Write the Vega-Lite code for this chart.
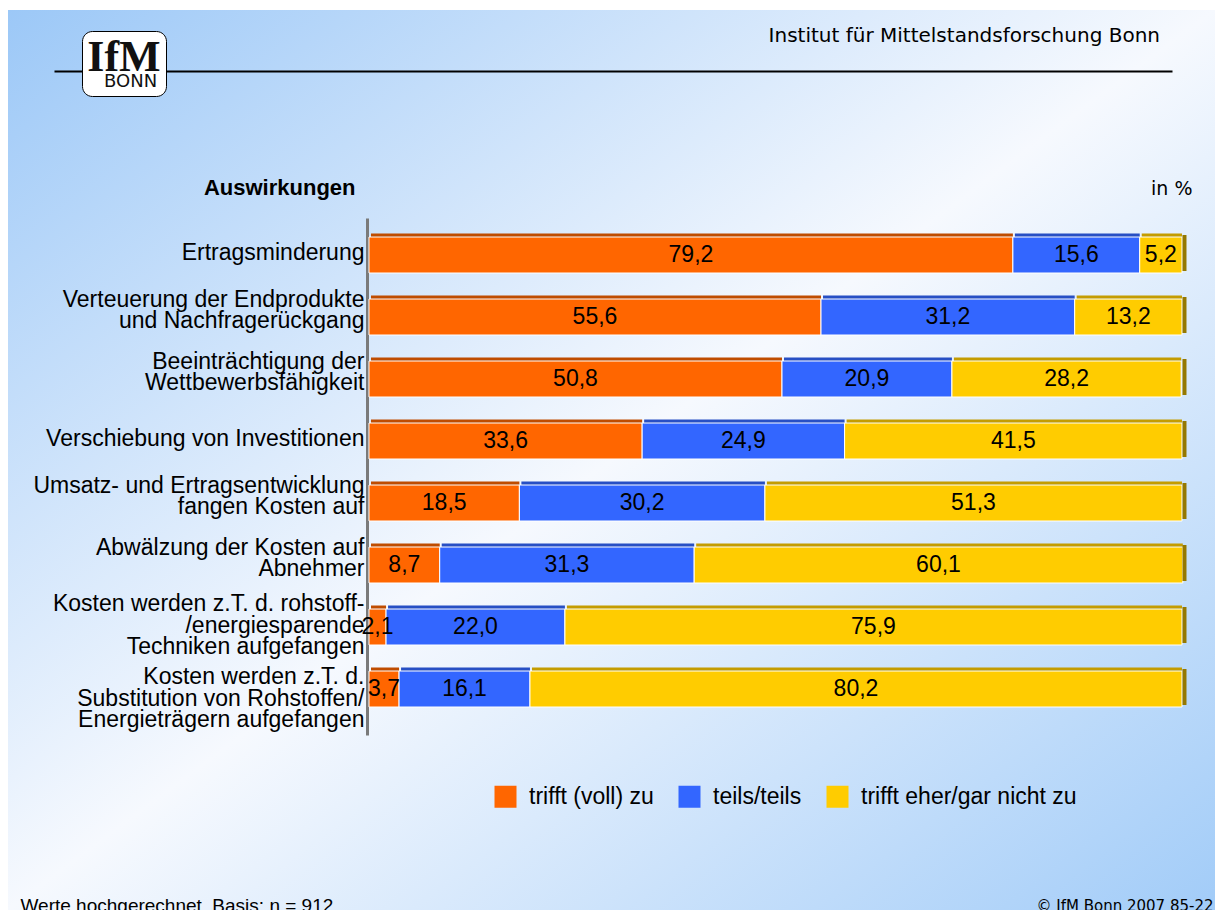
{
  "$schema": "https://vega.github.io/schema/vega-lite/v6.json",
  "width": 1207,
  "height": 900,
  "autosize": {"type": "none"},
  "padding": {"left": 8, "top": 10, "right": 0, "bottom": 0},
  "background": "#ffffff",
  "title": {
    "text": "Institut für Mittelstandsforschung Bonn",
    "orient": "top", "anchor": "end", "frame": "group",
    "offset": -52, "dx": -55, "baseline": "alphabetic",
    "font": "DejaVu Sans", "fontSize": 20, "fontWeight": "normal", "color": "#000000"
  },
  "data": {
    "values": [
      {"Auswirkung": "Ertragsminderung", "Antwort": "trifft (voll) zu", "Rang": 1, "Anteil": 79.2},
      {"Auswirkung": "Ertragsminderung", "Antwort": "teils/teils", "Rang": 2, "Anteil": 15.6},
      {"Auswirkung": "Ertragsminderung", "Antwort": "trifft eher/gar nicht zu", "Rang": 3, "Anteil": 5.2},
      {"Auswirkung": "Verteuerung der Endprodukte|und Nachfragerückgang", "Antwort": "trifft (voll) zu", "Rang": 1, "Anteil": 55.6},
      {"Auswirkung": "Verteuerung der Endprodukte|und Nachfragerückgang", "Antwort": "teils/teils", "Rang": 2, "Anteil": 31.2},
      {"Auswirkung": "Verteuerung der Endprodukte|und Nachfragerückgang", "Antwort": "trifft eher/gar nicht zu", "Rang": 3, "Anteil": 13.2},
      {"Auswirkung": "Beeinträchtigung der|Wettbewerbsfähigkeit", "Antwort": "trifft (voll) zu", "Rang": 1, "Anteil": 50.8},
      {"Auswirkung": "Beeinträchtigung der|Wettbewerbsfähigkeit", "Antwort": "teils/teils", "Rang": 2, "Anteil": 20.9},
      {"Auswirkung": "Beeinträchtigung der|Wettbewerbsfähigkeit", "Antwort": "trifft eher/gar nicht zu", "Rang": 3, "Anteil": 28.2},
      {"Auswirkung": "Verschiebung von Investitionen", "Antwort": "trifft (voll) zu", "Rang": 1, "Anteil": 33.6},
      {"Auswirkung": "Verschiebung von Investitionen", "Antwort": "teils/teils", "Rang": 2, "Anteil": 24.9},
      {"Auswirkung": "Verschiebung von Investitionen", "Antwort": "trifft eher/gar nicht zu", "Rang": 3, "Anteil": 41.5},
      {"Auswirkung": "Umsatz- und Ertragsentwicklung|fangen Kosten auf", "Antwort": "trifft (voll) zu", "Rang": 1, "Anteil": 18.5},
      {"Auswirkung": "Umsatz- und Ertragsentwicklung|fangen Kosten auf", "Antwort": "teils/teils", "Rang": 2, "Anteil": 30.2},
      {"Auswirkung": "Umsatz- und Ertragsentwicklung|fangen Kosten auf", "Antwort": "trifft eher/gar nicht zu", "Rang": 3, "Anteil": 51.3},
      {"Auswirkung": "Abwälzung der Kosten auf|Abnehmer", "Antwort": "trifft (voll) zu", "Rang": 1, "Anteil": 8.7},
      {"Auswirkung": "Abwälzung der Kosten auf|Abnehmer", "Antwort": "teils/teils", "Rang": 2, "Anteil": 31.3},
      {"Auswirkung": "Abwälzung der Kosten auf|Abnehmer", "Antwort": "trifft eher/gar nicht zu", "Rang": 3, "Anteil": 60.1},
      {"Auswirkung": "Kosten werden z.T. d. rohstoff-|/energiesparende|Techniken aufgefangen", "Antwort": "trifft (voll) zu", "Rang": 1, "Anteil": 2.1},
      {"Auswirkung": "Kosten werden z.T. d. rohstoff-|/energiesparende|Techniken aufgefangen", "Antwort": "teils/teils", "Rang": 2, "Anteil": 22.0},
      {"Auswirkung": "Kosten werden z.T. d. rohstoff-|/energiesparende|Techniken aufgefangen", "Antwort": "trifft eher/gar nicht zu", "Rang": 3, "Anteil": 75.9},
      {"Auswirkung": "Kosten werden z.T. d.|Substitution von Rohstoffen/|Energieträgern aufgefangen", "Antwort": "trifft (voll) zu", "Rang": 1, "Anteil": 3.7},
      {"Auswirkung": "Kosten werden z.T. d.|Substitution von Rohstoffen/|Energieträgern aufgefangen", "Antwort": "teils/teils", "Rang": 2, "Anteil": 16.1},
      {"Auswirkung": "Kosten werden z.T. d.|Substitution von Rohstoffen/|Energieträgern aufgefangen", "Antwort": "trifft eher/gar nicht zu", "Rang": 3, "Anteil": 80.2}
    ]
  },
  "transform": [
    {"stack": "Anteil", "groupby": ["Auswirkung"], "sort": [{"field": "Rang", "order": "ascending"}], "as": ["v0", "v1"]},
    {"calculate": "(datum.v0 + datum.v1) / 2", "as": "mid"}
  ],
  "layer": [
    {
      "mark": {"type": "bar", "stroke": "#ffffff", "strokeWidth": 1},
      "encoding": {
        "y": {
          "field": "Auswirkung", "type": "nominal", "sort": null,
          "scale": {
            "domain": [
              "Ertragsminderung",
              "Verteuerung der Endprodukte|und Nachfragerückgang",
              "Beeinträchtigung der|Wettbewerbsfähigkeit",
              "Verschiebung von Investitionen",
              "Umsatz- und Ertragsentwicklung|fangen Kosten auf",
              "Abwälzung der Kosten auf|Abnehmer",
              "Kosten werden z.T. d. rohstoff-|/energiesparende|Techniken aufgefangen",
              "Kosten werden z.T. d.|Substitution von Rohstoffen/|Energieträgern aufgefangen"
            ],
            "range": [208, 725],
            "paddingInner": 0.41935, "paddingOuter": 0.379, "align": 0.4043
          },
          "axis": {
            "orient": "left", "offset": -359,
            "title": "Auswirkungen", "titleAngle": 0, "titleAlign": "right", "titleBaseline": "alphabetic",
            "titleX": -12, "titleY": 184,
            "titleFont": "Liberation Sans", "titleFontSize": 22, "titleFontWeight": "bold", "titleColor": "#000000",
            "labelExpr": "split(datum.label, '|')",
            "labelOffset": {
              "condition": [
                {"test": "indexof(datum.label, 'Substitution') >= 0", "value": -12},
                {"test": "indexof(datum.label, 'rohstoff-') >= 0", "value": -23},
                {"test": "indexof(datum.label, '|') >= 0", "value": -17.5}
              ],
              "value": -2
            },
            "labelFont": "Liberation Sans", "labelFontSize": 23, "labelColor": "#000000",
            "labelLineHeight": 21.5, "labelPadding": 3, "labelLimit": 600,
            "ticks": false, "tickSize": 0, "grid": false,
            "domain": true, "domainColor": "#7a7a7a", "domainWidth": 3
          }
        },
        "x": {
          "field": "v0", "type": "quantitative",
          "scale": {"domain": [-44.40, 104.06], "nice": false, "zero": false},
          "axis": {
            "orient": "top", "offset": -61,
            "title": "in %", "titleX": 1184, "titleY": 123, "titleAlign": "right", "titleBaseline": "alphabetic",
            "titleFont": "DejaVu Sans", "titleFontSize": 19, "titleFontWeight": "normal", "titleColor": "#000000",
            "labels": false, "ticks": false, "grid": false,
            "domain": true, "domainColor": "#000000", "domainWidth": 2, "domainDash": [0, 46, 1118, 3000]
          }
        },
        "x2": {"field": "v1"},
        "color": {
          "field": "Antwort", "type": "nominal",
          "scale": {
            "domain": ["trifft (voll) zu", "teils/teils", "trifft eher/gar nicht zu"],
            "range": ["#ff6600", "#3366ff", "#ffcc00"]
          },
          "legend": {
            "title": null, "orient": "none", "legendX": 486, "legendY": 775,
            "direction": "horizontal", "symbolType": "square", "symbolSize": 484,
            "symbolStrokeWidth": 0, "symbolOpacity": 1,
            "labelFont": "Liberation Sans", "labelFontSize": 23, "labelColor": "#000000", "labelLimit": 500,
            "labelOffset": 12, "columnPadding": 24, "padding": 0
          }
        }
      }
    },
    {
      "mark": {"type": "bar", "height": 3, "yOffset": -20, "xOffset": 2, "strokeWidth": 0},
      "encoding": {
        "y": {"field": "Auswirkung", "type": "nominal", "sort": null, "axis": null},
        "x": {"field": "v0", "type": "quantitative", "axis": null},
        "x2": {"field": "v1"},
        "fill": {
          "field": "Antwort", "type": "nominal",
          "scale": {
            "domain": ["trifft (voll) zu", "teils/teils", "trifft eher/gar nicht zu"],
            "range": ["#bf4c00", "#274fc4", "#c49c00"]
          },
          "legend": null
        }
      }
    },
    {
      "transform": [{"filter": "datum.Rang == 3"}],
      "mark": {"type": "tick", "thickness": 4, "size": 36, "xOffset": 2.5, "yOffset": -2, "color": "#957800", "opacity": 1},
      "encoding": {
        "y": {
          "field": "Auswirkung", "type": "nominal", "sort": null,
          "axis": {
            "orient": "right", "title": "© IfM Bonn 2007  85-22", "titleAngle": 0,
            "titleX": -2, "titleY": 900, "titleAlign": "right", "titleBaseline": "alphabetic",
            "titleFont": "DejaVu Sans", "titleFontSize": 15, "titleFontWeight": "normal", "titleColor": "#000000",
            "labels": false, "ticks": false, "domain": false, "grid": false
          }
        },
        "x": {
          "datum": 100, "type": "quantitative",
          "axis": {
            "orient": "bottom", "title": "Werte hochgerechnet. Basis: n = 912",
            "titleX": 12, "titleY": 1, "titleAlign": "left", "titleAnchor": null, "titleBaseline": "alphabetic",
            "titleFont": "Liberation Sans", "titleFontSize": 19, "titleFontWeight": "normal", "titleColor": "#000000",
            "labels": false, "ticks": false, "domain": false, "grid": false
          }
        },
        "strokeDash": {
          "datum": "BONN", "type": "nominal",
          "scale": {"range": [[1, 0]]},
          "legend": {
            "title": "IfM", "orient": "none", "legendX": 74, "legendY": 21,
            "padding": 5, "fillColor": "#ffffff", "strokeColor": "#000000", "cornerRadius": 10,
            "titleFont": "Liberation Serif", "titleFontSize": 44, "titleFontWeight": "bold", "titleColor": "#111111",
            "titlePadding": -7, "titleAnchor": "middle",
            "labelFont": "DejaVu Sans", "labelFontSize": 18, "labelColor": "#111111", "labelOffset": -4,
            "symbolSize": 0, "symbolOpacity": 0, "symbolStrokeWidth": 0
          }
        }
      }
    },
    {
      "mark": {"type": "text", "font": "Liberation Sans", "fontSize": 23, "color": "#000000", "align": "center", "baseline": "middle"},
      "encoding": {
        "y": {"field": "Auswirkung", "type": "nominal", "sort": null, "axis": null},
        "x": {"field": "mid", "type": "quantitative", "axis": null},
        "text": {"field": "Anteil", "type": "quantitative", "format": ".1f"}
      }
    }
  ],
  "resolve": {"axis": {"x": "independent", "y": "independent"}},
  "config": {
    "locale": {"number": {"decimal": ",", "thousands": ".", "grouping": [3], "currency": ["", " €"]}},
    "view": {
      "stroke": null,
      "fill": {
        "gradient": "linear", "x1": 0, "y1": 0, "x2": 1, "y2": 1,
        "stops": [
          {"offset": 0, "color": "#9cc8f7"},
          {"offset": 0.5, "color": "#f6f9fe"},
          {"offset": 1, "color": "#a2ccf8"}
        ]
      }
    }
  }
}
